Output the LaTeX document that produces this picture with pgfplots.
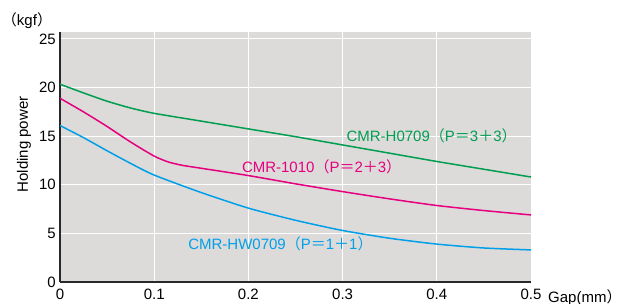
\documentclass[border=0pt]{standalone}
\usepackage{fontspec}
\setmainfont{Liberation Sans}
\newfontfamily\cjk{Noto Sans CJK JP}
\newcommand\fw[1]{{\cjk #1}}
\usepackage{pgfplots}
\pgfplotsset{compat=1.18}
\usetikzlibrary{calc}
\definecolor{bgc}{RGB}{221,218,218}
\definecolor{cgreen}{RGB}{0,158,80}
\definecolor{cmag}{RGB}{230,0,126}
\definecolor{ccyan}{RGB}{0,160,233}
\definecolor{axc}{RGB}{40,40,40}
\begin{document}
\fontsize{15bp}{17bp}\selectfont
\begin{tikzpicture}
\begin{axis}[
  scale only axis, width=471bp, height=250bp,
  xmin=0, xmax=0.5, ymin=0, ymax=25.72,
  xtick={0,0.1,0.2,0.3,0.4,0.5},
  xticklabels={0,0.1,0.2,0.3,0.4,0.5},
  ytick={0,5,10,15,20,25},
  yticklabels={0,5,10,15,20,25},
  axis background/.style={fill=bgc},
  grid=major, major grid style={white, line width=1bp},
  axis lines*=left, axis line style={axc, line width=2.5bp, -},
  tick style={draw=none},
  tick label style={font=\fontsize{15bp}{17bp}\selectfont},
  xticklabel style={yshift=-2bp},
  yticklabel style={xshift=1bp},
  /pgf/number format/assume math mode=true,
]
\addplot[cgreen, line width=1.5bp, smooth, tension=0.4] coordinates {
 (0,20.35)(0.025,19.45)(0.05,18.6)(0.075,17.9)(0.1,17.35)(0.15,16.55)(0.2,15.75)(0.25,14.95)(0.3,14.1)(0.35,13.25)(0.4,12.4)(0.45,11.6)(0.5,10.8)};
\addplot[cmag, line width=1.5bp, smooth, tension=0.4] coordinates {
 (0,18.9)(0.025,17.5)(0.05,16.0)(0.075,14.4)(0.1,12.95)(0.115,12.35)(0.13,12.0)(0.15,11.7)(0.2,10.95)(0.25,10.1)(0.3,9.3)(0.35,8.55)(0.4,7.87)(0.45,7.35)(0.5,6.9)};
\addplot[ccyan, line width=1.5bp, smooth, tension=0.4] coordinates {
 (0,16.1)(0.025,14.85)(0.05,13.5)(0.075,12.2)(0.1,11.0)(0.15,9.2)(0.2,7.6)(0.25,6.35)(0.3,5.3)(0.35,4.5)(0.4,3.9)(0.45,3.5)(0.5,3.3)};
\node[anchor=west, inner sep=0pt, text=cgreen] at (axis cs:0.304,15.0) {CMR-H0709\fw{（}P\fw{＝}3\fw{＋}3\fw{）}};
\node[anchor=west, inner sep=0pt, text=cmag] at (axis cs:0.193,11.9) {CMR-1010\fw{（}P\fw{＝}2\fw{＋}3\fw{）}};
\node[anchor=west, inner sep=0pt, text=ccyan] at (axis cs:0.136,3.9) {CMR-HW0709\fw{（}P\fw{＝}1\fw{＋}1\fw{）}};
\coordinate (ll) at (rel axis cs:0,0);
\coordinate (ur) at (rel axis cs:1,1);
\end{axis}
\node[anchor=base west, inner sep=0pt] at ([shift={(17bp,-20bp)}]ll -| ur) {Gap(mm\fw{）}};
\node[inner sep=0pt] at ([shift={(-33bp,11bp)}]ll |- ur) {\fw{（}kgf\fw{）}};
\node[rotate=90, inner sep=0pt] at ([shift={(-36bp,0bp)}]$(ll)!0.55!(ll |- ur)$) {Holding power};
\pgfresetboundingbox
\path ([shift={(-60bp,-22bp)}]ll) rectangle ([shift={(92bp,32bp)}]ur);
\end{tikzpicture}
\end{document}
